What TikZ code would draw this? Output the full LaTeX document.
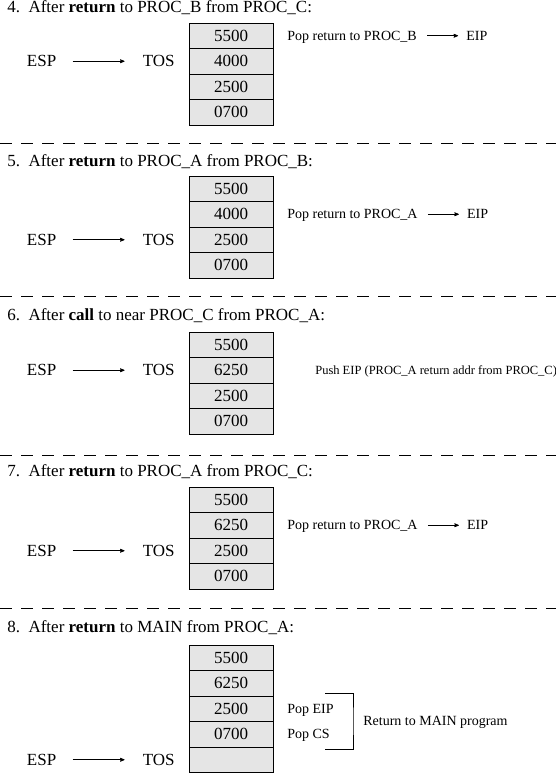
\documentclass[tikz,border=0pt]{standalone}
\usepackage{fontspec}
\setmainfont{Liberation Serif}
\usetikzlibrary{arrows, positioning, calc}

\begin{document}
\begin{tikzpicture}
            [x=1pt, y=-1pt, >=stealth', semithick,
            cell/.style={rectangle, draw=black, fill=black!10, line width=0.9pt, minimum width=84pt, minimum height=25.5pt, inner sep=0pt, outer sep=0pt, font=\fontsize{17}{20}\selectfont},
            regname/.style={inner sep=0pt, font=\fontsize{17}{20}\selectfont},
            heading/.style={anchor=west, inner sep=0pt, font=\fontsize{17}{20}\selectfont},
            note/.style={inner sep=0pt, text depth=0pt, font=\fontsize{14}{16}\selectfont},
            ptr/.style={->, line width=0.7pt, shorten <=16pt, shorten >=18pt},
            popptr/.style={->, line width=0.7pt, shorten <=10pt, shorten >=8pt},
            sepline/.style={dash pattern=on 12pt off 9pt, line width=0.8pt}]

            \useasboundingbox (0,0) rectangle (556,773);

            % 4
            \node[heading] (t4) at (7,8) {4.\ \ After \textbf{return} to PROC\_B from PROC\_C:};
            \node[cell] (c41) at (231,35.75) {5500};
            \node[cell] (c42) [below=0pt of c41] {4000};
            \node[cell] (c43) [below=0pt of c42] {2500};
            \node[cell] (c44) [below=0pt of c43] {0700};
            \node[regname] (tos4) [left=14pt of c42] {TOS};
            \node[regname] (esp4) [left=86pt of tos4] {ESP};
            \node[note] (pop4) [right=14pt of c41] {Pop return to PROC\_B};
            \node[note] (eip4) [right=49pt of pop4] {EIP};
            \draw[ptr] (esp4) -- (tos4);
            \draw[popptr] (pop4) -- (eip4);

            \draw[sepline] (0,143) -- (556,143);

            % 5
            \node[heading] (t5) at (7,162) {5.\ \ After \textbf{return} to PROC\_A from PROC\_B:};
            \node[cell] (c51) at (231,188.75) {5500};
            \node[cell] (c52) [below=0pt of c51] {4000};
            \node[cell] (c53) [below=0pt of c52] {2500};
            \node[cell] (c54) [below=0pt of c53] {0700};
            \node[regname] (tos5) [left=14pt of c53] {TOS};
            \node[regname] (esp5) [left=86pt of tos5] {ESP};
            \node[note] (pop5) [right=14pt of c52] {Pop return to PROC\_A};
            \node[note] (eip5) [right=49pt of pop5] {EIP};
            \draw[ptr] (esp5) -- (tos5);
            \draw[popptr] (pop5) -- (eip5);

            \draw[sepline] (0,296) -- (556,296);

            % 6
            \node[heading] (t6) at (7,316) {6.\ \ After \textbf{call} to near PROC\_C from PROC\_A:};
            \node[cell] (c61) at (231,344.75) {5500};
            \node[cell] (c62) [below=0pt of c61] {6250};
            \node[cell] (c63) [below=0pt of c62] {2500};
            \node[cell] (c64) [below=0pt of c63] {0700};
            \node[regname] (tos6) [left=14pt of c62] {TOS};
            \node[regname] (esp6) [left=86pt of tos6] {ESP};
            \node[note, font=\fontsize{12.5}{15}\selectfont] (push6) [right=42pt of c62] {Push EIP (PROC\_A return addr from PROC\_C)};
            \draw[ptr] (esp6) -- (tos6);

            \draw[sepline] (0,455) -- (556,455);

            % 7
            \node[heading] (t7) at (7,472) {7.\ \ After \textbf{return} to PROC\_A from PROC\_C:};
            \node[cell] (c71) at (231,499.75) {5500};
            \node[cell] (c72) [below=0pt of c71] {6250};
            \node[cell] (c73) [below=0pt of c72] {2500};
            \node[cell] (c74) [below=0pt of c73] {0700};
            \node[regname] (tos7) [left=14pt of c73] {TOS};
            \node[regname] (esp7) [left=86pt of tos7] {ESP};
            \node[note] (pop7) [right=14pt of c72] {Pop return to PROC\_A};
            \node[note] (eip7) [right=49pt of pop7] {EIP};
            \draw[ptr] (esp7) -- (tos7);
            \draw[popptr] (pop7) -- (eip7);

            \draw[sepline] (0,608) -- (556,608);

            % 8
            \node[heading] (t8) at (7,628) {8.\ \ After \textbf{return} to MAIN from PROC\_A:};
            \node[cell] (c81) at (231,657.75) {5500};
            \node[cell] (c82) [below=0pt of c81] {6250};
            \node[cell] (c83) [below=0pt of c82] {2500};
            \node[cell] (c84) [below=0pt of c83] {0700};
            \node[cell] (c85) [below=0pt of c84] {};
            \node[regname] (tos8) [left=14pt of c85] {TOS};
            \node[regname] (esp8) [left=86pt of tos8] {ESP};
            \node[note] (popeip8) [right=14pt of c83] {Pop EIP};
            \node[note] (popcs8) [right=14pt of c84] {Pop CS};
            \coordinate (bt8) at (325,693);
            \coordinate (bm8) at (353,721);
            \coordinate (bb8) at (325,749);
            \node[note] (ret8) [right=10pt of bm8] {Return to MAIN program};
            \draw[line width=0.8pt] (bt8) -| (bm8) |- (bb8);
            \draw[ptr] (esp8) -- (tos8);
        \end{tikzpicture}
\end{document}
